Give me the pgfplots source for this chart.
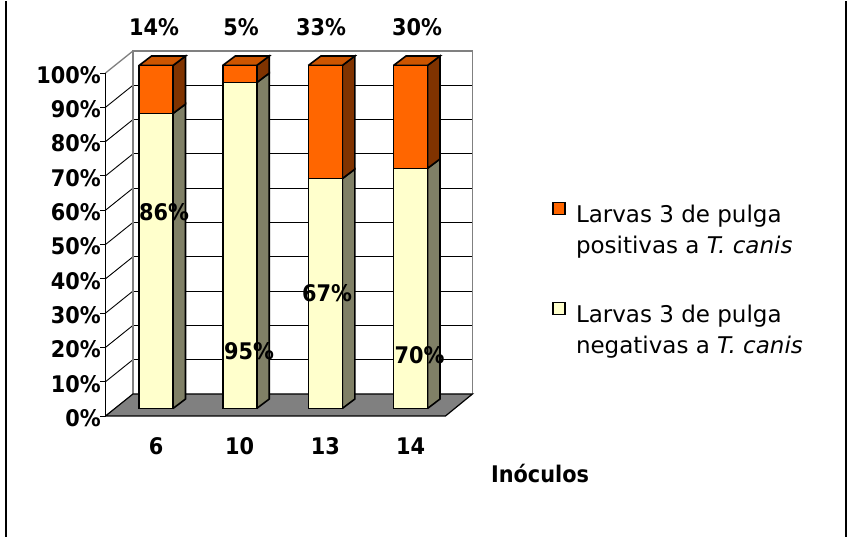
\documentclass[border=0pt]{standalone}
\usepackage{pgfplots}
\pgfplotsset{compat=1.18}
\usepackage{fontspec}
\setmainfont{DejaVu Sans}[BoldFeatures={FakeStretch=0.91}]
\definecolor{cream}{HTML}{FFFFCC}
\definecolor{creamside}{HTML}{808066}
\definecolor{lorange}{HTML}{FF6600}
\definecolor{orangeside}{HTML}{803300}
\definecolor{orangetop}{HTML}{CC5500}
\definecolor{wallgray}{HTML}{808080}
\newcommand{\lbf}{\fontsize{22.9}{27}\selectfont\bfseries}
\pgfplotsset{base/.style={x=1pt, y=3.43pt, xmin=0, xmax=847, ymin=-37.47, ymax=118.80,
  clip=false, axis line style={draw=none}, tick style={draw=none},
  /pgf/number format/assume math mode=true}}
\begin{document}
\begin{tikzpicture}
% ---------- background: walls, floor, depth faces, ticks, legend ----------
\begin{axis}[base,
  xtick={156,239.7,325.3,410.5}, xticklabels={6,10,13,14},
  xticklabel style={font=\lbf, anchor=center, inner sep=0pt, yshift=90.7pt},
  ytick={-2.19,7.81,17.81,27.81,37.81,47.81,57.81,67.81,77.81,87.81,97.81},
  yticklabels={0\%,10\%,20\%,30\%,40\%,50\%,60\%,70\%,80\%,90\%,100\%},
  yticklabel style={font=\lbf, anchor=east, inner sep=0pt, xshift=101pt, yshift=-2pt},
  xlabel={Inóculos}, xlabel style={at={(axis cs:540,-21.7)}, anchor=base, font=\lbf},
  unbounded coords=jump,
  legend image code/.code={\draw[#1] (0pt,15.5pt) rectangle (12pt,27.5pt);},
  legend cell align=left,
  legend style={at={(axis cs:552,60.3)}, anchor=north west, draw=none, fill=none,
    inner sep=0pt, outer sep=0pt, row sep=47pt, column sep=10.5pt,
    cells={align=left, anchor=west},
    nodes={inner sep=0pt, font=\fontsize{23}{30.5}\selectfont}},
]
% outer frame
\addplot[forget plot, black, line width=2pt] coordinates {(6,-37.47) (6,118.80)};
\addplot[forget plot, black, line width=2pt] coordinates {(845.8,-37.47) (845.8,118.80)};
% back wall gridlines
\addplot[forget plot, black, line width=0.9pt] coordinates {
 (133,14.23) (472.5,14.23) (0,nan)
 (133,24.23) (472.5,24.23) (0,nan)
 (133,34.23) (472.5,34.23) (0,nan)
 (133,44.23) (472.5,44.23) (0,nan)
 (133,54.23) (472.5,54.23) (0,nan)
 (133,64.23) (472.5,64.23) (0,nan)
 (133,74.23) (472.5,74.23) (0,nan)
 (133,84.23) (472.5,84.23) (0,nan)
 (133,94.23) (472.5,94.23)};
% left wall diagonals
\addplot[forget plot, black, line width=0.9pt] coordinates {
 (105.5,7.81) (133,14.23) (0,nan)
 (105.5,17.81) (133,24.23) (0,nan)
 (105.5,27.81) (133,34.23) (0,nan)
 (105.5,37.81) (133,44.23) (0,nan)
 (105.5,47.81) (133,54.23) (0,nan)
 (105.5,57.81) (133,64.23) (0,nan)
 (105.5,67.81) (133,74.23) (0,nan)
 (105.5,77.81) (133,84.23) (0,nan)
 (105.5,87.81) (133,94.23)};
% wall borders
\addplot[forget plot, wallgray, line width=1.3pt] coordinates {(133,4.23) (133,104.23) (472.5,104.23) (472.5,4.23)};
\addplot[forget plot, wallgray, line width=1.3pt] coordinates {(105.5,97.81) (133,104.23)};
% front axis line and ticks
\addplot[forget plot, black, line width=0.9pt] coordinates {(105.5,-2.19) (105.5,97.81)};
\addplot[forget plot, black, line width=0.9pt] coordinates {
 (100,-2.19) (105.5,-2.19) (0,nan) (100,7.81) (105.5,7.81) (0,nan)
 (100,17.81) (105.5,17.81) (0,nan) (100,27.81) (105.5,27.81) (0,nan)
 (100,37.81) (105.5,37.81) (0,nan) (100,47.81) (105.5,47.81) (0,nan)
 (100,57.81) (105.5,57.81) (0,nan) (100,67.81) (105.5,67.81) (0,nan)
 (100,77.81) (105.5,77.81) (0,nan) (100,87.81) (105.5,87.81) (0,nan)
 (100,97.81) (105.5,97.81)};
% floor
\addplot[forget plot, fill=wallgray, draw=black, line width=1.2pt] coordinates {
 (105.5,-2.19) (445.5,-2.19) (472.5,4.23) (133,4.23) (105.5,-2.19)};
% side faces, negative (cream) segments
\addplot[forget plot, fill=creamside, draw=black, line width=1.6pt] coordinates {
 (173,0) (185.5,2.75) (185.5,88.75) (173,86) (173,0) (0,nan)
 (256.7,0) (269.2,2.75) (269.2,97.75) (256.7,95) (256.7,0) (0,nan)
 (342.3,0) (354.8,2.75) (354.8,69.75) (342.3,67) (342.3,0) (0,nan)
 (427.5,0) (440,2.75) (440,72.75) (427.5,70) (427.5,0)};
% side faces, positive (orange) segments
\addplot[forget plot, fill=orangeside, draw=black, line width=1.6pt] coordinates {
 (173,86) (185.5,88.75) (185.5,102.75) (173,100) (173,86) (0,nan)
 (256.7,95) (269.2,97.75) (269.2,102.75) (256.7,100) (256.7,95) (0,nan)
 (342.3,67) (354.8,69.75) (354.8,102.75) (342.3,100) (342.3,67) (0,nan)
 (427.5,70) (440,72.75) (440,102.75) (427.5,100) (427.5,70)};
% top faces
\addplot[forget plot, fill=orangetop, draw=black, line width=1.6pt] coordinates {
 (139,100) (173,100) (185.5,102.75) (151.5,102.75) (139,100) (0,nan)
 (222.7,100) (256.7,100) (269.2,102.75) (235.2,102.75) (222.7,100) (0,nan)
 (308.3,100) (342.3,100) (354.8,102.75) (320.8,102.75) (308.3,100) (0,nan)
 (393.5,100) (427.5,100) (440,102.75) (406,102.75) (393.5,100)};
% legend
\addlegendimage{fill=lorange, draw=black, line width=1.5pt}
\addlegendentry{Larvas 3 de pulga\\positivas a \textit{T. canis}}
\addlegendimage{fill=cream, draw=black, line width=1.5pt}
\addlegendentry{Larvas 3 de pulga\\negativas a \textit{T. canis}}
\end{axis}
% ---------- front faces of the stacked bars ----------
\begin{axis}[base, hide axis, ybar stacked, bar width=34pt]
\addplot[fill=cream, draw=black, line width=1.6pt] coordinates {(156,86) (239.7,95) (325.3,67) (410.5,70)};
\addplot[fill=lorange, draw=black, line width=1.6pt] coordinates {(156,14) (239.7,5) (325.3,33) (410.5,30)};
\end{axis}
% ---------- data labels ----------
\begin{axis}[base, hide axis]
\addplot[draw=none, point meta=explicit,
  nodes near coords={\pgfmathprintnumber{\pgfplotspointmeta}\%},
  nodes near coords style={font=\lbf, anchor=center, inner sep=0pt}]
  coordinates {(154,111.1) [14] (241,111.1) [5] (321,111.1) [33] (417,111.1) [30]};
\addplot[draw=none, point meta=explicit,
  nodes near coords={\pgfmathprintnumber{\pgfplotspointmeta}\%},
  nodes near coords style={font=\lbf, anchor=center, inner sep=0pt}]
  coordinates {(164,57.3) [86] (249,16.6) [95] (327,33.5) [67] (419.5,15.6) [70]};
\end{axis}
\end{tikzpicture}
\end{document}
